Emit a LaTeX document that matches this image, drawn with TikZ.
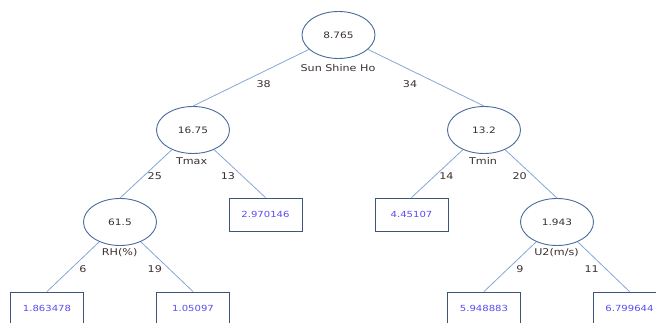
\documentclass[tikz,border=0pt]{standalone}
\usepackage{fontspec}
\newfontfamily\lblfont[FakeStretch=1.2]{DejaVu Sans}
\usetikzlibrary{shapes.geometric}
\definecolor{ellline}{HTML}{4A6A9A}
\definecolor{edgeline}{HTML}{86A6D6}
\definecolor{boxline}{HTML}{3C5578}
\definecolor{boxtext}{HTML}{5A4CF0}
\definecolor{darktext}{HTML}{3A3030}
\tikzset{
  splitnode/.style={ellipse, draw=ellline, line width=0.9pt, minimum width=73pt, minimum height=47pt, inner sep=0pt, text=darktext, font=\lblfont\fontsize{8.8}{10}\selectfont},
  leafbox/.style={rectangle, draw=boxline, line width=0.9pt, minimum width=73pt, minimum height=33pt, inner sep=0pt, text=boxtext, font=\lblfont\fontsize{8.4}{10}\selectfont},
  conn/.style={draw=edgeline, line width=0.8pt},
  varlbl/.style={inner sep=0pt, text=darktext, font=\lblfont\fontsize{9.3}{10}\selectfont},
  cntlbl/.style={inner sep=0pt, text=darktext, font=\lblfont\fontsize{9.3}{10}\selectfont}
}
\begin{document}
\begin{tikzpicture}[x=1pt,y=-1pt]
\useasboundingbox (0,0) rectangle (656,323);
\clip (0,0) rectangle (656,323);
\node[splitnode] (root) at (338.5,35) {8.765};
\node[splitnode] (tmax) at (193,130) {16.75};
\node[splitnode] (tmin) at (484,130) {13.2};
\node[splitnode] (rh) at (120,222) {61.5};
\node[splitnode] (u2) at (557,222) {1.943};
\node[leafbox] (l1) at (265.5,214.5) {2.970146};
\node[leafbox] (l2) at (411.5,214.5) {4.45107};
\node[leafbox] (l3) at (47,308.5) {1.863478};
\node[leafbox] (l4) at (193,308.5) {1.05097};
\node[leafbox] (l5) at (484,308.5) {5.948883};
\node[leafbox] (l6) at (629.5,308.5) {6.799644};
\draw[conn] (root) -- (tmax.north);
\draw[conn] (root) -- (tmin.north);
\draw[conn] (tmax) -- (rh.north);
\draw[conn] (tmax) -- (l1.north);
\draw[conn] (tmin) -- (l2.north);
\draw[conn] (tmin) -- (u2.north);
\draw[conn] (rh) -- (l3.north);
\draw[conn] (rh) -- (l4.north);
\draw[conn] (u2) -- (l5.north);
\draw[conn] (u2) -- (l6.north);
\node[varlbl] (v1) at (338,68) {Sun Shine Ho};
\node[varlbl] (v2) at (191.6,161) {Tmax};
\node[varlbl] (v3) at (483,161) {Tmin};
\node[varlbl] (v4) at (119.7,253) {RH(\%)};
\node[varlbl] (v5) at (556.5,253) {U2(m/s)};
\node[cntlbl] (c1) at (263.6,84) {38};
\node[cntlbl] (c2) at (410,84) {34};
\node[cntlbl] (c3) at (154.8,176) {25};
\node[cntlbl] (c4) at (228,176) {13};
\node[cntlbl] (c5) at (446.4,176) {14};
\node[cntlbl] (c6) at (519.7,176) {20};
\node[cntlbl] (c7) at (82.8,268.7) {6};
\node[cntlbl] (c8) at (154.8,268.7) {19};
\node[cntlbl] (c9) at (520,268.7) {9};
\node[cntlbl] (c10) at (591.6,268.7) {11};
\end{tikzpicture}
\end{document}
